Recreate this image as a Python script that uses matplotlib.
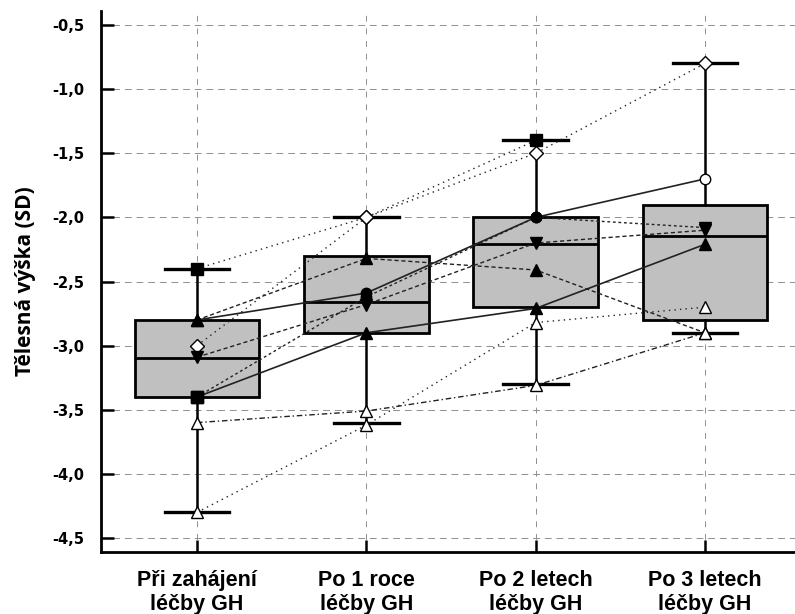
import numpy as np
import matplotlib
matplotlib.use("Agg")
import matplotlib.pyplot as plt

# ---------------- data ----------------
categories = ["Při zahájení\nléčby GH", "Po 1 roce\nléčby GH",
              "Po 2 letech\nléčby GH", "Po 3 letech\nléčby GH"]
whisker_low = [-4.3, -3.6, -3.3, -2.9]
q1 = [-3.4, -2.9, -2.7, -2.8]
median = [-3.1, -2.66, -2.21, -2.145]
q3 = [-2.8, -2.3, -2.0, -1.9]
whisker_high = [-2.4, -2.0, -1.4, -0.8]

yticks = [-0.5, -1.0, -1.5, -2.0, -2.5, -3.0, -3.5, -4.0, -4.5]
ytick_labels = ["-0,5", "-1,0", "-1,5", "-2,0", "-2,5", "-3,0", "-3,5", "-4,0", "-4,5"]
ylabel = "Tělesná výška (SD)"

# individual patients (SD values at the four time points)
p1 = [-2.8, -2.59, -2.0, -1.7]
p2 = [-3.4, -2.9, -2.71, -2.21]
p3 = [-2.4, -2.0, -1.4, np.nan]
p4 = [-3.0, -2.0, -1.5, -0.8]
p5 = [-4.3, -3.62, -2.82, -2.7]
p6 = [-3.6, -3.51, -3.31, -2.9]
p7 = [-2.8, -2.32, -2.41, -2.9]
p8 = [-3.09, -2.68, -2.2, -2.1]
p9 = [-3.4, -2.62, -2.0, -2.08]
patients = [p1, p2, p3, p4, p5, p6, p7, p8, p9]

# ---------------- styles ----------------
line_styles = ["-", "-", (0, (1, 3)), (0, (1, 3)), (0, (1, 3)),
               (0, (4, 2, 1, 2)), (0, (3, 2)), (0, (3, 2)), (0, (2, 2))]
line_widths = [1.2, 1.2, 1.0, 1.0, 1.0, 1.0, 1.0, 1.0, 1.0]
marker_shapes = [["^", "o", "o", "o"], ["s", "^", "^", "^"], ["s", "D", "s", "s"],
                 ["D", "D", "D", "D"], ["^", "^", "^", "^"], ["^", "^", "^", "^"],
                 ["^", "^", "^", "^"], ["v", "v", "v", "v"], ["s", "o", "o", "v"]]
marker_fill = [["k", "k", "k", "w"], ["k", "k", "k", "k"], ["k", "w", "k", "k"],
               ["w", "w", "w", "w"], ["w", "w", "w", "w"], ["w", "w", "w", "w"],
               ["k", "k", "k", "w"], ["k", "k", "k", "k"], ["k", "k", "k", "k"]]
marker_sizes = {"^": 9, "v": 9, "s": 8, "D": 7, "o": 7.5}

fig = plt.figure(figsize=(7.95, 6.14), dpi=100)
ax = fig.add_axes([101 / 795, 1 - 552 / 614, (802 - 101) / 795, (552 - 11) / 614])

positions = np.arange(1, len(categories) + 1)
stats = [dict(whislo=whisker_low[i], q1=q1[i], med=median[i], q3=q3[i],
              whishi=whisker_high[i], fliers=[]) for i in range(len(categories))]
ax.bxp(stats, positions=positions, widths=0.735, capwidths=0.38,
       patch_artist=True, showfliers=False,
       boxprops=dict(facecolor="#c0c0c0", edgecolor="black", linewidth=2.0),
       medianprops=dict(color="black", linewidth=2.0),
       whiskerprops=dict(color="black", linewidth=1.8),
       capprops=dict(color="black", linewidth=2.4), zorder=2)

for i, p in enumerate(patients):
    ax.plot(positions, p, linestyle=line_styles[i], color="#222222",
            linewidth=line_widths[i], zorder=3)
    for j, v in enumerate(p):
        if np.isnan(v):
            continue
        m = marker_shapes[i][j]
        ax.plot(positions[j], v, marker=m, markersize=marker_sizes[m],
                markerfacecolor=marker_fill[i][j], markeredgecolor="black",
                markeredgewidth=1.0, linestyle="none", zorder=4)

ax.set_xlim(0.433, 4.573)
ax.set_ylim(-4.609, -0.391)

ax.set_yticks(yticks)
ax.set_yticklabels(ytick_labels, fontsize=10.5, fontweight="bold", family="DejaVu Sans")
ax.set_xticks(positions)
ax.set_xticklabels(categories, fontsize=15.5, fontweight="bold",
                   family=["Liberation Sans Narrow", "Liberation Sans", "DejaVu Sans"],
                   linespacing=1.2)

ax.grid(True, axis="y", color="#8f8f8f", linestyle=(0, (7, 5)), linewidth=0.7, zorder=0)
ax.grid(True, axis="x", color="#8f8f8f", linestyle=(0, (6, 7)), linewidth=0.7, zorder=0)
ax.set_axisbelow(True)

ax.tick_params(axis="y", direction="in", length=9, width=1.8, pad=12)
ax.tick_params(axis="x", direction="in", length=9, width=1.8, pad=13)
for s in ["left", "bottom"]:
    ax.spines[s].set_linewidth(2.0)
ax.spines["top"].set_visible(False)
ax.spines["right"].set_visible(False)

ax.set_ylabel(ylabel, fontsize=15, fontweight="bold", family=["Open Sans", "DejaVu Sans"])
ax.yaxis.set_label_coords(-0.093, 0.5)

fig.savefig("out.png", dpi=100)
